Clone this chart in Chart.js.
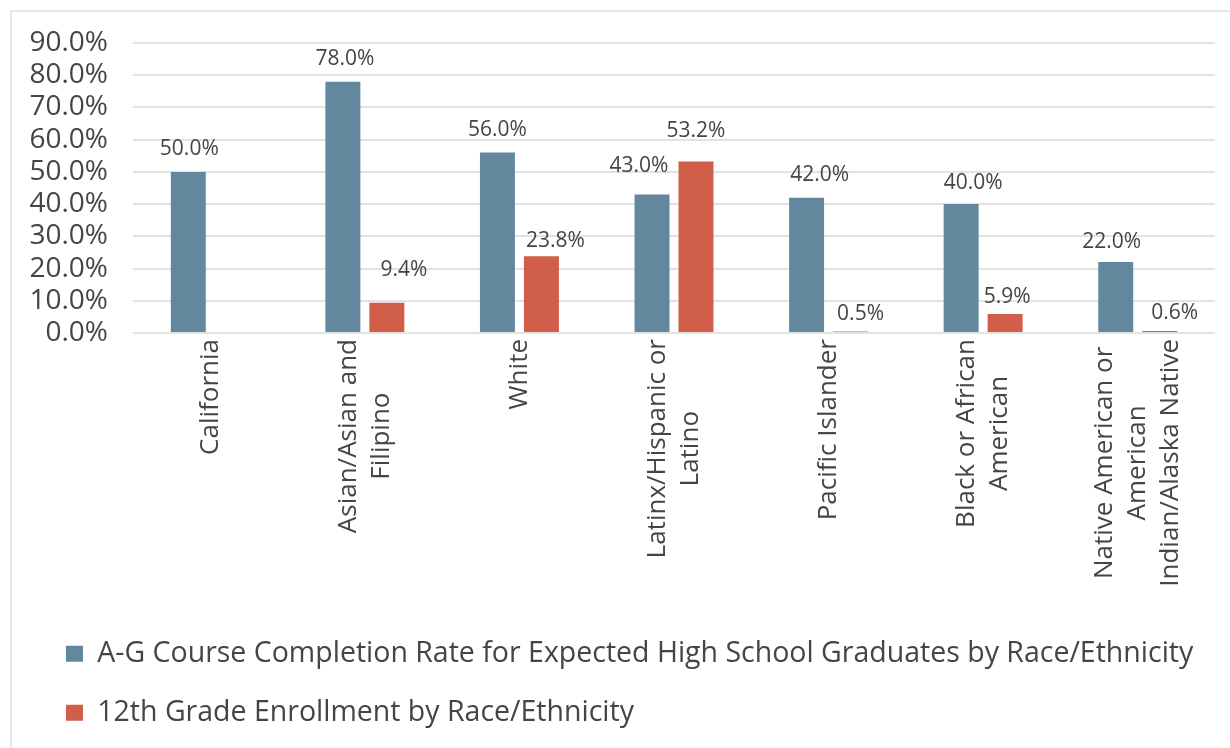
<!DOCTYPE html>
<html>
<head>
<meta charset="utf-8">
<script src="https://cdn.jsdelivr.net/npm/chart.js@4.4.0/dist/chart.umd.min.js"></script>
<style>
  html, body { margin: 0; padding: 0; background: #ffffff; overflow: hidden; }
  #frame { position: absolute; left: 10px; top: 10px; width: 1400px; height: 900px; border: 2px solid #e8e8e8; box-sizing: border-box; }
  #c { position: absolute; left: 0; top: 0; display: block; }
</style>
</head>
<body>
<div id="frame"></div>
<canvas id="c" width="1230" height="748"></canvas>
<script>
// ---- Data ----
const categories = [
  "California",
  ["Asian/Asian and", "Filipino"],
  "White",
  ["Latinx/Hispanic or", "Latino"],
  "Pacific Islander",
  ["Black or African", "American"],
  ["Native American or", "American", "Indian/Alaska Native"]
];
const agCompletionRate = [50.0, 78.0, 56.0, 43.0, 42.0, 40.0, 22.0];
const grade12Enrollment = [null, 9.4, 23.8, 53.2, 0.5, 5.9, 0.6];
const seriesNames = [
  "A-G Course Completion Rate for Expected High School Graduates by Race/Ethnicity",
  "12th Grade Enrollment by Race/Ethnicity"
];
const yTicks = [0, 10, 20, 30, 40, 50, 60, 70, 80, 90];

// ---- Styles (label placement nudges, as in the original) ----
const FONT = "'Open Sans', 'Noto Sans', sans-serif";
const TEXT = '#454545';
const BLUE = '#63879D';
const ORANGE = '#D05E48';
const labelNudge = [
  { dx: [1, 2, 0, -13, 13, 12, -4], dy: [0, 0, 0, -5, 0, 2, 3] },
  { dx: [0, 17, 14, 0, 10, 2, 15], dy: [0, -9.5, 8, -8, 5.5, 6, 5] }
];

const dataLabels = {
  id: 'dataLabels',
  afterDatasetsDraw(chart) {
    const ctx = chart.ctx;
    ctx.save();
    ctx.font = "21px " + FONT;
    ctx.fillStyle = TEXT;
    ctx.textAlign = 'center';
    ctx.textBaseline = 'alphabetic';
    chart.data.datasets.forEach((ds, di) => {
      const meta = chart.getDatasetMeta(di);
      meta.data.forEach((el, i) => {
        const v = ds.data[i];
        if (v === null || v === undefined) return;
        const n = labelNudge[di];
        ctx.fillText(v.toFixed(1) + '%', el.x + n.dx[i], el.y - 17 + n.dy[i]);
      });
    });
    ctx.restore();
  }
};

const xLabels = {
  id: 'xLabels',
  afterDraw(chart) {
    const ctx = chart.ctx;
    const scale = chart.scales.x;
    ctx.save();
    ctx.font = "26px " + FONT;
    ctx.fillStyle = TEXT;
    ctx.textAlign = 'center';
    ctx.textBaseline = 'middle';
    const top = scale.top + 6;
    const lineGap = 33;
    categories.forEach((lab, i) => {
      const lines = Array.isArray(lab) ? lab : [lab];
      const w = Math.max(...lines.map(l => ctx.measureText(l).width));
      const x = scale.getPixelForTick(i);
      ctx.save();
      ctx.translate(x, top + w / 2);
      ctx.rotate(-Math.PI / 2);
      lines.forEach((l, k) => {
        ctx.fillText(l, 0, (k - (lines.length - 1) / 2) * lineGap);
      });
      ctx.restore();
    });
    ctx.restore();
  }
};

const legendShift = {
  id: 'legendShift',
  afterLayout(chart) {
    if (chart.legend) chart.legend.left += 35.5;
  }
};

new Chart(document.getElementById('c'), {
  type: 'bar',
  data: {
    labels: categories,
    datasets: [
      { label: seriesNames[0], data: agCompletionRate, backgroundColor: BLUE, borderWidth: 0,
        categoryPercentage: 0.569, barPercentage: 0.795 },
      { label: seriesNames[1], data: grade12Enrollment, backgroundColor: ORANGE, borderWidth: 0,
        categoryPercentage: 0.569, barPercentage: 0.795 }
    ]
  },
  options: {
    responsive: false,
    animation: false,
    devicePixelRatio: 1,
    layout: { padding: { left: 0, right: 15, top: 43, bottom: 11 } },
    plugins: {
      legend: {
        position: 'bottom',
        align: 'start',
        labels: {
          boxWidth: 17, boxHeight: 16, padding: 30.5,
          color: TEXT,
          font: { family: FONT, size: 28.5 }
        }
      },
      tooltip: { enabled: false }
    },
    scales: {
      x: {
        grid: { display: false },
        border: { display: false },
        ticks: { display: false },
        afterFit(scale) { scale.height = 276; }
      },
      y: {
        min: 0, max: 90,
        afterBuildTicks(scale) { scale.ticks = yTicks.map(v => ({ value: v })); },
        afterFit(scale) { scale.width = 133; },
        grid: { color: '#e2e2e2', lineWidth: 2, drawTicks: false },
        border: { display: false },
        ticks: {
          autoSkip: false,
          padding: 25,
          color: TEXT,
          font: { family: FONT, size: 28 },
          callback: v => v.toFixed(1) + '%'
        }
      }
    }
  },
  plugins: [dataLabels, xLabels, legendShift]
});
</script>
</body>
</html>
